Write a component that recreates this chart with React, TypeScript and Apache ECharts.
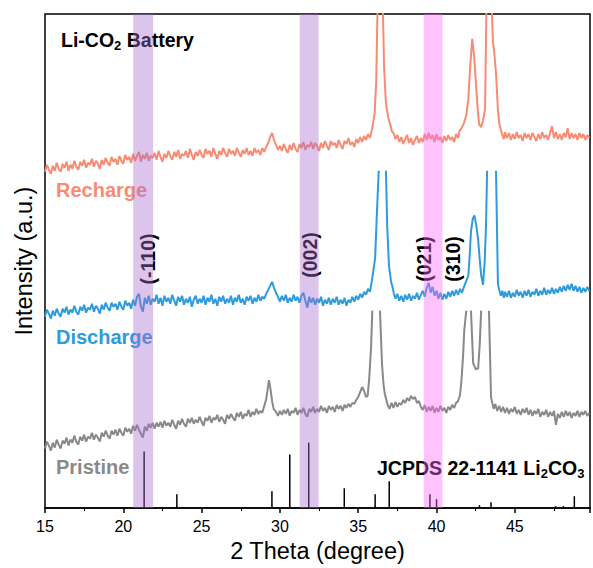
import React, { useEffect, useRef } from "react";
import * as echarts from "echarts";

const FONT = 'Arial, "Liberation Sans", sans-serif';

// x: 2θ (degree), y: intensity (a.u., offset units)
const recharge: (number | null)[][] = [
  [15,339],[15.125,346],[15.25,341],[15.375,337],[15.5,345],[15.625,340],[15.75,348],[15.875,342],[16,339],[16.125,347],[16.25,343],[16.375,349],[16.5,340],[16.625,346],[16.75,342],[16.875,350],
  [17,344],[17.125,341],[17.25,349],[17.375,345],[17.5,351],[17.625,343],[17.75,348],[17.875,346],[18,352],[18.125,344],[18.25,350],[18.375,347],[18.5,342],[18.625,351],[18.75,346],[18.875,353],
  [19,348],[19.125,345],[19.25,354],[19.375,349],[19.5,352],[19.625,346],[19.75,355],[19.875,350],[20,347],[20.125,356],[20.25,351],[20.375,354],[20.5,348],[20.625,357],[20.75,350],[20.875,355],
  [21,359],[21.125,349],[21.25,356],[21.375,352],[21.5,358],[21.625,350],[21.75,355],[21.875,353],[22,358],[22.125,351],[22.25,360],[22.375,354],[22.5,349],[22.625,357],[22.75,353],[22.875,360],
  [23,355],[23.125,351],[23.25,359],[23.375,354],[23.5,361],[23.625,352],[23.75,357],[23.875,355],[24,360],[24.125,353],[24.25,362],[24.375,356],[24.5,351],[24.625,359],[24.75,355],[24.875,361],
  [25,356],[25.125,353],[25.25,362],[25.375,357],[25.5,360],[25.625,354],[25.75,363],[25.875,357],[26,352],[26.125,360],[26.25,356],[26.375,363],[26.5,358],[26.625,354],[26.75,362],[26.875,357],
  [27,360],[27.125,355],[27.25,363],[27.375,358],[27.5,354],[27.625,361],[27.75,357],[27.875,363],[28,356],[28.125,360],[28.25,355],[28.375,363],[28.5,358],[28.625,361],[28.75,356],[28.875,363],
  [29,359],[29.125,364],[29.25,368],[29.375,374],[29.5,378],[29.625,371],[29.75,366],[29.875,361],[30,365],[30.125,360],[30.25,367],[30.375,362],[30.5,358],[30.625,366],[30.75,361],[30.875,368],
  [31,362],[31.125,359],[31.25,367],[31.375,363],[31.5,369],[31.625,361],[31.75,366],[31.875,364],[32,369],[32.125,362],[32.25,368],[32.375,365],[32.5,360],[32.625,368],[32.75,363],[32.875,370],
  [33,365],[33.125,361],[33.25,370],[33.375,366],[33.5,368],[33.625,363],[33.75,371],[33.875,366],[34,362],[34.125,370],[34.25,367],[34.375,373],[34.5,366],[34.625,369],[34.75,364],[34.875,372],
  [35,368],[35.125,374],[35.25,369],[35.375,375],[35.5,371],[35.625,377],[35.75,373],[35.9,383],[36.05,398],[36.15,430],[36.25,520],[36.35,600],[36.5,600],[36.58,498],[36.65,445],[36.77,408],
  [36.9,395],[37.05,386],[37.15,380],[37.28,377],[37.375,372],[37.5,376],[37.625,369],[37.75,374],[37.875,367],[38,372],[38.125,376],[38.25,368],[38.375,373],[38.5,366],[38.625,371],[38.75,375],
  [38.875,368],[39,373],[39.125,369],[39.25,377],[39.375,371],[39.5,378],[39.625,372],[39.75,376],[39.875,369],[40,377],[40.125,371],[40.25,374],[40.375,368],[40.5,375],[40.625,370],[40.75,376],
  [40.875,371],[41,374],[41.125,369],[41.25,377],[41.375,373],[41.46,380],[41.6,383],[41.75,388],[41.9,396],[42.03,412],[42.15,445],[42.28,473],[42.4,456],[42.55,420],[42.65,398],[42.72,387],
  [42.85,384],[42.97,391],[43.1,402],[43.2,520],[43.28,600],[43.42,600],[43.5,520],[43.6,470],[43.67,462],[43.8,438],[43.92,402],[44,388],[44.11,381],[44.2,376],[44.3,372],[44.375,379],
  [44.5,373],[44.625,378],[44.75,371],[44.875,377],[45,372],[45.125,379],[45.25,373],[45.375,376],[45.5,370],[45.625,378],[45.75,373],[45.875,377],[46,371],[46.125,378],[46.25,374],[46.375,370],
  [46.5,377],[46.625,372],[46.75,379],[46.875,373],[47,376],[47.125,371],[47.25,378],[47.375,385],[47.5,373],[47.625,379],[47.75,372],[47.875,377],[48,371],[48.125,378],[48.25,374],[48.375,383],
  [48.5,372],[48.625,378],[48.75,373],[48.875,377],[49,371],[49.125,378],[49.25,373],[49.375,377],[49.5,371],[49.625,376],[49.75,373]
];

const discharge: (number | null)[][] = [
  [15,193],[15.125,200],[15.25,196],[15.375,191],[15.5,199],[15.625,194],[15.75,201],[15.875,196],[16,193],[16.125,201],[16.25,197],[16.375,203],[16.5,195],[16.625,200],[16.75,197],[16.875,204],
  [17,198],[17.125,195],[17.25,203],[17.375,199],[17.5,205],[17.625,197],[17.75,202],[17.875,200],[18,206],[18.125,198],[18.25,204],[18.375,201],[18.5,196],[18.625,205],[18.75,200],[18.875,207],
  [19,202],[19.125,199],[19.25,207],[19.375,203],[19.5,206],[19.625,200],[19.75,208],[19.875,203],[20,200],[20.125,209],[20.25,204],[20.375,207],[20.5,201],[20.625,210],[20.75,204],[20.875,213],
  [21,216],[21.125,203],[21.25,198],[21.375,212],[21.5,206],[21.625,214],[21.75,205],[21.875,211],[22,208],[22.125,215],[22.25,206],[22.375,212],[22.5,204],[22.625,214],[22.75,208],[22.875,212],
  [23,206],[23.125,215],[23.25,209],[23.375,204],[23.5,213],[23.625,208],[23.75,214],[23.875,205],[24,211],[24.125,207],[24.25,213],[24.375,203],[24.5,210],[24.625,214],[24.75,206],[24.875,211],
  [25,207],[25.125,214],[25.25,205],[25.375,212],[25.5,208],[25.625,215],[25.75,206],[25.875,211],[26,204],[26.125,213],[26.25,208],[26.375,214],[26.5,206],[26.625,211],[26.75,207],[26.875,214],
  [27,205],[27.125,212],[27.25,208],[27.375,215],[27.5,207],[27.625,211],[27.75,205],[27.875,213],[28,209],[28.125,214],[28.25,206],[28.375,212],[28.5,208],[28.625,215],[28.75,209],[28.875,213],
  [29,211],[29.125,216],[29.25,220],[29.375,224],[29.5,228],[29.625,222],[29.75,217],[29.875,213],[30,208],[30.125,214],[30.25,209],[30.375,215],[30.5,207],[30.625,212],[30.75,208],[30.875,215],
  [31,209],[31.125,213],[31.25,207],[31.375,214],[31.5,217],[31.625,209],[31.75,202],[31.875,213],[32,207],[32.125,212],[32.25,205],[32.375,211],[32.5,207],[32.625,213],[32.75,204],[32.875,210],
  [33,206],[33.125,212],[33.25,205],[33.375,211],[33.5,207],[33.625,213],[33.75,205],[33.875,210],[34,206],[34.125,212],[34.25,204],[34.375,210],[34.5,207],[34.625,213],[34.75,208],[34.875,214],
  [35,210],[35.125,216],[35.25,212],[35.375,218],[35.5,215],[35.625,221],[35.75,218],[35.9,232],[36.08,252],[36.2,300],[36.31,340],[36.5,null],[36.77,340],[36.85,285],[36.96,245],[37.1,228],
  [37.2,222],[37.28,216],[37.375,211],[37.5,216],[37.625,209],[37.75,214],[37.875,208],[38,215],[38.125,210],[38.25,216],[38.375,209],[38.5,214],[38.625,211],[38.75,217],[38.875,210],[39,215],
  [39.125,219],[39.25,213],[39.375,222],[39.5,227],[39.625,217],[39.75,223],[39.875,214],[40,219],[40.125,211],[40.25,217],[40.375,210],[40.5,216],[40.625,211],[40.75,218],[40.875,213],[41,219],
  [41.125,214],[41.25,220],[41.375,215],[41.5,221],[41.625,217],[41.75,223],[41.9,229],[42.03,234],[42.12,255],[42.2,279],[42.32,292],[42.42,295],[42.55,284],[42.66,270],[42.75,252],[42.85,235],
  [42.97,225],[43.08,250],[43.16,285],[43.23,340],[43.5,null],[43.8,340],[43.92,226],[44,220],[44.11,214],[44.2,219],[44.3,212],[44.375,218],[44.5,213],[44.625,219],[44.75,212],[44.875,217],
  [45,213],[45.125,220],[45.25,214],[45.375,218],[45.5,212],[45.625,219],[45.75,214],[45.875,220],[46,213],[46.125,218],[46.25,215],[46.375,221],[46.5,214],[46.625,219],[46.75,215],[46.875,222],
  [47,215],[47.125,220],[47.25,216],[47.375,222],[47.5,216],[47.625,221],[47.75,217],[47.875,223],[48,218],[48.125,224],[48.25,219],[48.375,225],[48.5,220],[48.625,226],[48.75,219],[48.875,224],
  [49,218],[49.125,223],[49.25,217],[49.375,222],[49.5,218],[49.625,223],[49.75,219]
];

const pristine: (number | null)[][] = [
  [15,60],[15.125,67],[15.25,63],[15.375,58],[15.5,66],[15.625,61],[15.75,69],[15.875,64],[16,60],[16.125,68],[16.25,65],[16.375,71],[16.5,63],[16.625,69],[16.75,66],[16.875,73],
  [17,67],[17.125,64],[17.25,72],[17.375,68],[17.5,74],[17.625,67],[17.75,72],[17.875,70],[18,76],[18.125,69],[18.25,74],[18.375,71],[18.5,67],[18.625,76],[18.75,72],[18.875,78],
  [19,73],[19.125,70],[19.25,78],[19.375,74],[19.5,79],[19.625,73],[19.75,80],[19.875,76],[20,73],[20.125,81],[20.25,77],[20.375,80],[20.5,75],[20.625,83],[20.75,78],[20.875,84],
  [21,79],[21.125,75],[21.25,71],[21.375,82],[21.5,78],[21.625,85],[21.75,81],[21.875,86],[22,80],[22.125,86],[22.25,82],[22.375,87],[22.5,81],[22.625,88],[22.75,83],[22.875,86],
  [23,82],[23.125,89],[23.25,84],[23.375,80],[23.5,88],[23.625,84],[23.75,90],[23.875,85],[24,82],[24.125,90],[24.25,86],[24.375,91],[24.5,85],[24.625,89],[24.75,86],[24.875,92],
  [25,87],[25.125,83],[25.25,91],[25.375,88],[25.5,93],[25.625,86],[25.75,91],[25.875,89],[26,94],[26.125,87],[26.25,92],[26.375,89],[26.5,85],[26.625,94],[26.75,90],[26.875,95],
  [27,91],[27.125,88],[27.25,96],[27.375,92],[27.5,97],[27.625,90],[27.75,95],[27.875,93],[28,99],[28.125,92],[28.25,97],[28.375,94],[28.5,100],[28.625,95],[28.75,98],[28.875,96],
  [29,103],[29.125,110],[29.2,118],[29.3,129],[29.4,120],[29.5,108],[29.6,100],[29.75,97],[29.875,93],[30,98],[30.125,94],[30.25,99],[30.375,95],[30.5,100],[30.625,93],[30.75,98],
  [30.875,96],[31,101],[31.125,94],[31.25,99],[31.375,96],[31.5,101],[31.625,95],[31.75,92],[31.875,100],[32,97],[32.125,102],[32.25,96],[32.375,100],[32.5,97],[32.625,103],[32.75,98],
  [32.875,101],[33,96],[33.125,103],[33.25,99],[33.375,102],[33.5,97],[33.625,104],[33.75,100],[33.875,103],[34,98],[34.125,104],[34.25,101],[34.375,105],[34.5,102],[34.625,106],[34.75,105],
  [34.875,109],[35,112],[35.125,117],[35.25,122],[35.375,118],[35.5,112],[35.6,113],[35.7,130],[35.82,162],[35.9,199],[36.15,null],[36.39,199],[36.52,145],[36.62,124],[36.7,115],[36.8,109],
  [36.875,104],[37,100],[37.125,106],[37.25,101],[37.375,107],[37.5,102],[37.625,106],[37.75,104],[37.875,109],[38,106],[38.125,111],[38.25,108],[38.375,113],[38.5,110],[38.625,112],[38.75,106],
  [38.875,108],[39,102],[39.125,99],[39.25,104],[39.375,97],[39.5,102],[39.625,98],[39.75,103],[39.875,96],[40,101],[40.125,97],[40.25,103],[40.375,98],[40.5,101],[40.625,96],[40.75,102],
  [40.875,99],[41,104],[41.125,101],[41.25,106],[41.375,108],[41.5,114],[41.6,130],[41.7,155],[41.77,179],[41.9,199],[42.05,null],[42.2,199],[42.34,146],[42.5,140],[42.66,141],[42.76,165],
  [42.85,199],[43.1,null],[43.35,199],[43.48,112],[43.56,106],[43.65,100],[43.75,105],[43.875,98],[44,103],[44.125,97],[44.25,102],[44.375,96],[44.5,101],[44.625,95],[44.75,100],[44.875,97],
  [45,102],[45.125,95],[45.25,99],[45.375,94],[45.5,100],[45.625,96],[45.75,101],[45.875,94],[46,99],[46.125,93],[46.25,98],[46.375,95],[46.5,100],[46.625,92],[46.75,97],[46.875,94],
  [47,99],[47.125,92],[47.25,97],[47.375,93],[47.5,98],[47.625,84],[47.75,95],[47.875,91],[48,97],[48.125,92],[48.25,98],[48.375,93],[48.5,97],[48.625,91],[48.75,96],[48.875,93],
  [49,98],[49.125,92],[49.25,97],[49.375,94],[49.5,98],[49.625,93],[49.75,96]
];

// JCPDS 22-1141 Li2CO3 reference sticks
const jcpdsPos = [21.33, 23.42, 29.49, 30.63, 31.84, 34.11, 36.08, 36.98, 39.58, 40.0, 42.74, 43.48, 47.6, 48.1, 48.8];
const jcpdsInt = [57, 14, 17, 54, 66, 20, 14, 27, 14, 9, 3, 6, 2, 2, 12];

// highlighted 2θ bands [start, end]
const bandStart = [20.63, 31.27, 39.18];
const bandEnd = [21.9, 32.47, 40.38];
const bandColors = ["rgba(168,107,208,0.4)", "rgba(168,107,208,0.4)", "rgba(252,105,247,0.4)"];

const X_MIN = 15;
const X_MAX = 49.8;
const Y_MIN = 0;
const Y_MAX = 498;

const COLORS = { recharge: "#F98B72", discharge: "#2E9BDD", pristine: "#898989" };

export default function App() {
  const ref = useRef<HTMLDivElement>(null);
  useEffect(() => {
    document.body.style.margin = "0";
    if (!ref.current) return;
    const chart = echarts.init(ref.current, null, { renderer: "svg" });

    const lineSeries = (name: string, data: any, color: string) => ({
      name,
      type: "line",
      data,
      showSymbol: false,
      symbol: "none",
      connectNulls: false,
      clip: true,
      z: 2,
      lineStyle: { color, width: 2 },
    });

    const sticks = jcpdsPos.map((x, i) => [x, jcpdsInt[i]]);
    const bands = bandStart.map((s, i) => [s, bandEnd[i]]);

    const labelStyle = (color: string) => ({
      fill: color,
      fontSize: 20,
      fontWeight: "bold",
      fontFamily: FONT,
    });
    const hkl = (text: string, x: number, y: number) => ({
      type: "text",
      z: 4,
      x,
      y,
      rotation: Math.PI / 2,
      style: { text, fill: "#000", fontSize: 19.5, fontWeight: "bold", fontFamily: FONT, align: "center", verticalAlign: "middle" },
    });
    const richSub = {
      a: { fontSize: 19.5, fontWeight: "bold", fontFamily: FONT, fill: "#000", lineHeight: 27 },
      s: { fontSize: 13, fontWeight: "bold", fontFamily: FONT, fill: "#000", lineHeight: 15, padding: [12, 0, 0, 0] },
    };

    const option: any = {
      animation: false,
      textStyle: { fontFamily: FONT },
      grid: {
        left: 45,
        right: -2,
        top: 14,
        bottom: 56,
        show: true,
        borderColor: "#000",
        borderWidth: 1.5,
        backgroundColor: "transparent",
      },
      xAxis: {
        type: "value",
        min: X_MIN,
        max: X_MAX,
        interval: 5,
        axisLine: { show: true, lineStyle: { color: "#000", width: 1.5 } },
        axisTick: { show: true, length: 5, lineStyle: { color: "#000", width: 1.5 } },
        minorTick: { show: true, splitNumber: 2, length: 3, lineStyle: { color: "#000", width: 1 } },
        axisLabel: {
          color: "#000",
          fontSize: 16,
          fontFamily: FONT,
          margin: 10,
          formatter: (v: number) => (Math.abs(v % 5) < 1e-9 ? String(v) : ""),
        },
        splitLine: { show: false },
        minorSplitLine: { show: false },
        name: "2 Theta (degree)",
        nameLocation: "middle",
        nameGap: 28,
        nameTextStyle: { color: "#000", fontSize: 23.5, fontFamily: FONT },
      },
      yAxis: {
        type: "value",
        min: Y_MIN,
        max: Y_MAX,
        axisLine: { show: false },
        axisTick: { show: false },
        axisLabel: { show: false },
        splitLine: { show: false },
        name: "Intensity (a.u.)",
        nameLocation: "middle",
        nameGap: 9,
        nameRotate: 90,
        nameTextStyle: { color: "#000", fontSize: 23.5, fontFamily: FONT },
      },
      series: [
        lineSeries("Pristine", pristine, COLORS.pristine),
        lineSeries("Discharge", discharge, COLORS.discharge),
        lineSeries("Recharge", recharge, COLORS.recharge),
        {
          name: "JCPDS",
          type: "custom",
          z: 2,
          data: sticks,
          renderItem: (params: any, api: any) => {
            const p0 = api.coord([api.value(0), 0]);
            const p1 = api.coord([api.value(0), api.value(1)]);
            return {
              type: "line",
              shape: { x1: p0[0], y1: p0[1], x2: p1[0], y2: p1[1] },
              style: { stroke: "#000", lineWidth: 1.5 },
            };
          },
        },
        {
          name: "bands",
          type: "custom",
          z: 6,
          data: bands,
          renderItem: (params: any, api: any) => {
            const a = api.coord([api.value(0), Y_MAX]);
            const b = api.coord([api.value(1), Y_MIN]);
            return {
              type: "rect",
              shape: { x: a[0], y: a[1], width: b[0] - a[0], height: b[1] - a[1] },
              style: { fill: bandColors[params.dataIndex] },
            };
          },
        },
      ],
      graphic: [
        { type: "text", z: 4, x: 61, y: 26, style: { text: "{a|Li-CO}{s|2}{a| Battery}", verticalAlign: "top", rich: richSub } },
        { type: "text", z: 4, x: 377, y: 454, style: { text: "{a|JCPDS 22-1141 Li}{s|2}{a|CO}{s|3}", verticalAlign: "top", rich: richSub } },
        { type: "text", z: 4, x: 56, y: 190, style: { ...labelStyle(COLORS.recharge), text: "Recharge", verticalAlign: "middle" } },
        { type: "text", z: 4, x: 56, y: 337, style: { ...labelStyle(COLORS.discharge), text: "Discharge", verticalAlign: "middle" } },
        { type: "text", z: 4, x: 56, y: 467, style: { ...labelStyle(COLORS.pristine), text: "Pristine", verticalAlign: "middle" } },
        hkl("(-110)", 148, 259),
        hkl("(002)", 310, 255),
        hkl("(021)", 424, 259),
        hkl("(310)", 453, 259),
      ],
    };

    chart.setOption(option);
    return () => chart.dispose();
  }, []);

  return <div ref={ref} style={{ width: 593, height: 568 }} />;
}
